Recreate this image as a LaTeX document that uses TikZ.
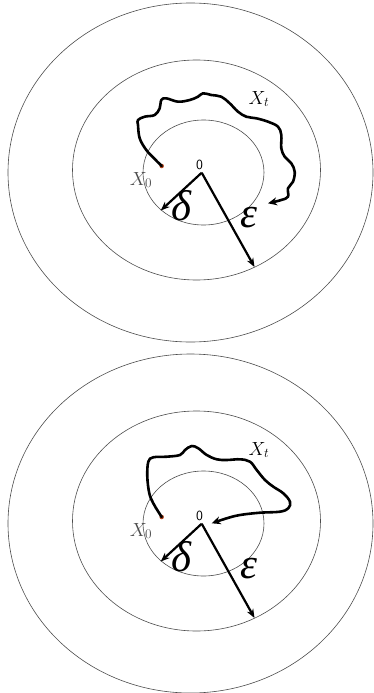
\documentclass[tikz,border=0pt]{standalone}
\usepackage{fix-cm}
\usepackage{fontspec}
\newfontfamily\greekfont{Liberation Serif}
\usetikzlibrary{arrows.meta}
\definecolor{dotred}{RGB}{176,64,24}

\begin{document}
\begin{tikzpicture}
  [x=1pt, y=-1pt,
   ring/.style={draw=black!70, line width=0.6pt},
   walk/.style={line width=2.6pt, line join=round, line cap=round, -{Stealth[length=9pt, width=8pt]}},
   radius/.style={line width=2.2pt, -{Stealth[length=9pt, width=7pt]}},
   dot/.style={circle, fill=dotred, inner sep=0pt, minimum size=4.5pt},
   lab/.style={inner sep=0pt},
   greek/.style={inner sep=0pt, font=\greekfont\itshape\fontsize{43}{43}\selectfont}]

  \useasboundingbox (0,0) rectangle (374,693);

  % Elipses, origen, radios y etiquetas (arriba y abajo)
  \foreach \p/\dy in {1/0, 2/351} {
    \draw[ring] (190.5,{172.5+\dy}) ellipse [x radius=182.5, y radius=169.5];
    \draw[ring] (196.5,{170+\dy}) ellipse [x radius=124, y radius=110];
    \draw[ring] (203.5,{172.5+\dy}) ellipse [x radius=60.5, y radius=52.5];

    \coordinate (o\p) at (201.7,{172.7+\dy});
    \coordinate (dtip\p) at (160.7,{210.5+\dy});
    \coordinate (etip\p) at (254.5,{267+\dy});
    \node[lab, font=\sffamily\fontsize{14}{14}\selectfont] (zero\p) at (199.5,{165+\dy}) {0};
    \node[dot] (x0\p) at (161.7,{166+\dy}) {};

    \draw[radius] (o\p) -- (dtip\p);
    \draw[radius] (o\p) -- (etip\p);

    \node[greek] (del\p) at (181,{206+\dy}) {δ};
    \node[greek] (eps\p) at (249,{218+\dy}) {ε};
    \node[lab, font=\fontsize{19}{19}\selectfont] (xt\p) at (259,{99+\dy}) {$X_t$};
    \node[lab, text=black!70, font=\fontsize{19}{19}\selectfont] (xlab\p) at (141,{180+\dy}) {$X_0$};
  }

  % Trayectoria de arriba
  \coordinate (wend1) at (268,203.3);
  \draw[walk] plot[smooth, tension=0.6] coordinates {(x01.center) (154.7,159) (146.3,150)
    (139.7,138.3) (138,125) (138,120) (144.7,116.7) (154.7,115) (159.7,108.3) (161.3,100)
    (166.3,98.3) (178,101.7) (189.7,100) (198,96.7) (203,93.3) (211.3,95) (221.3,96.7)
    (229.7,103.3) (238,111.7) (246.3,116.7) (256.3,118.3) (268,121.7) (278,126.7)
    (281.3,135) (281.3,148.3) (284.7,156.7) (291.3,163.3) (294.7,171.7) (293,181.7)
    (288,188.3) (288,196.7) (281.3,200) (wend1)};

  % Trayectoria de abajo
  \coordinate (wend2) at (211.7,523.3);
  \draw[walk] plot[smooth, tension=0.6] coordinates {(x02.center) (158.3,511.7) (153.3,503.3)
    (149.3,493.3) (147.3,476.7) (148.3,461.7) (153.3,457.3) (166.7,456.7) (180,455)
    (185,450) (191.7,446) (198.3,448.3) (206.7,455) (216.7,459.3) (226.7,460) (240,459.3)
    (250,461.7) (256.7,470) (265,480) (273.3,486.7) (283.3,493.3) (290,501.7) (288.3,508.3)
    (280,511.7) (260,512.7) (240,515) (226.7,518.3) (wend2)};
\end{tikzpicture}
\end{document}
